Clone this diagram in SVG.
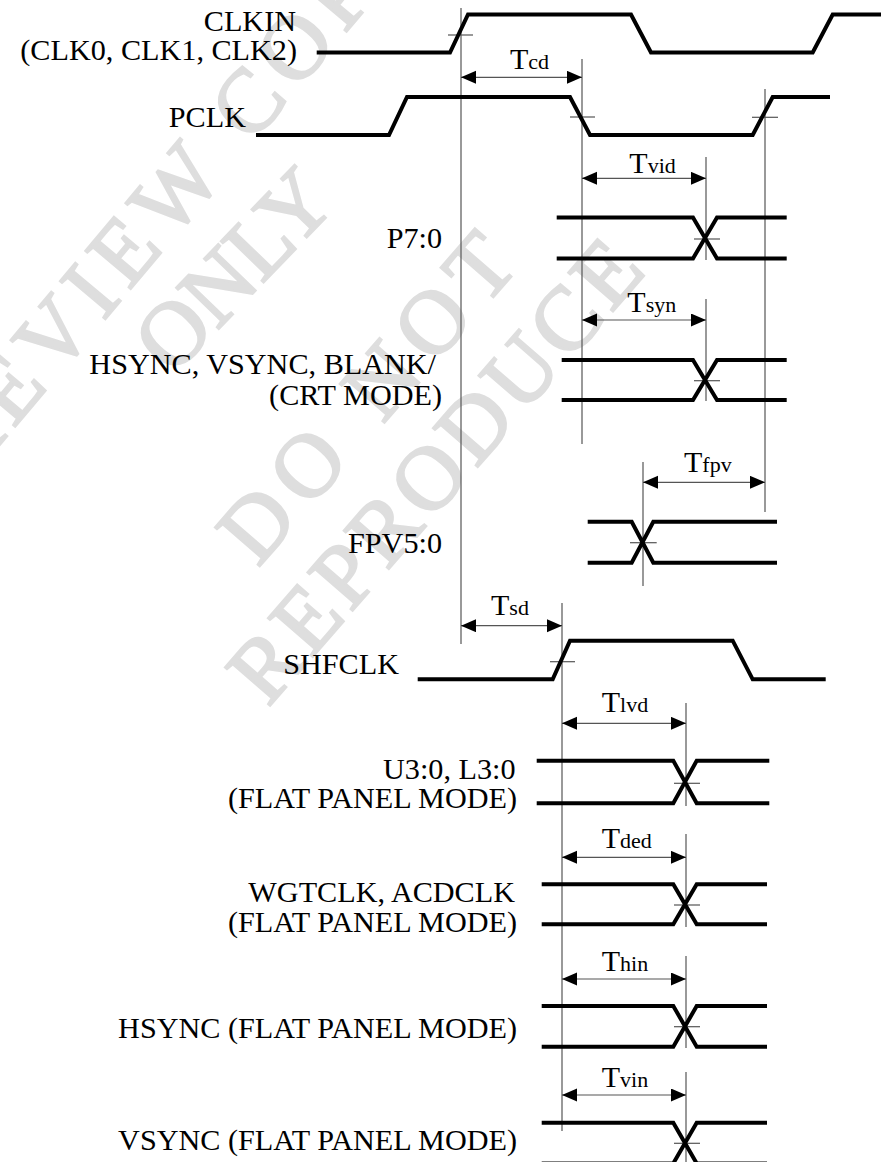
<svg xmlns="http://www.w3.org/2000/svg" width="881" height="1162" viewBox="0 0 881 1162">
<defs>
<style>
.wm{font-family:"Liberation Serif",serif;font-weight:normal;font-size:90px;fill:#dedede;stroke:#dedede;stroke-width:2.5}
.sig{fill:none;stroke:#000;stroke-width:4;stroke-linejoin:miter;stroke-linecap:butt}
.thin{fill:none;stroke:#555;stroke-width:1.2}
.dim{fill:none;stroke:#555;stroke-width:1.2;marker-start:url(#ah);marker-end:url(#ah)}
.lbl{font-family:"Liberation Serif","Times New Roman",serif;font-size:30.2px;fill:#000;text-anchor:end}
.tl{font-family:"Liberation Serif","Times New Roman",serif;font-size:30px;fill:#000}
.sub{font-size:22px}
</style>
<marker id="ah" markerUnits="userSpaceOnUse" markerWidth="16" markerHeight="14" refX="15" refY="6.5" orient="auto-start-reverse">
<path d="M0,0 L15,6.5 L0,13 Z" fill="#000"/>
</marker>
</defs>
<rect width="881" height="1162" fill="#fff"/>
<g id="watermark">
<text class="wm" transform="translate(-70,528) rotate(-50)" textLength="770" lengthAdjust="spacing">PREVIEW COPY</text>
<text class="wm" transform="translate(172,377) rotate(-46)" textLength="240" lengthAdjust="spacing">ONLY</text>
<text class="wm" transform="translate(258,568) rotate(-49)" textLength="400" lengthAdjust="spacing">DO NOT</text>
<text class="wm" transform="translate(268,708) rotate(-49)" textLength="578" lengthAdjust="spacing">REPRODUCE</text>
</g>
<g id="connectors">
<line class="thin" x1="461" y1="8" x2="461" y2="644"/>
<line class="thin" x1="582" y1="59" x2="582" y2="444"/>
<line class="thin" x1="706" y1="157" x2="706" y2="260"/>
<line class="thin" x1="706" y1="299" x2="706" y2="401"/>
<line class="thin" x1="765" y1="89" x2="765" y2="512"/>
<line class="thin" x1="643" y1="462" x2="643" y2="586"/>
<line class="thin" x1="562" y1="603" x2="562" y2="1131"/>
<line class="thin" x1="686" y1="703" x2="686" y2="806"/>
<line class="thin" x1="686" y1="834" x2="686" y2="927"/>
<line class="thin" x1="686" y1="956" x2="686" y2="1048"/>
<line class="thin" x1="686" y1="1072" x2="686" y2="1162"/>
<line class="dim" x1="461" y1="77.3" x2="582" y2="77.3"/>
<line class="dim" x1="582" y1="178.3" x2="706" y2="178.3"/>
<line class="dim" x1="582" y1="320" x2="706" y2="320"/>
<line class="dim" x1="643" y1="482.3" x2="765" y2="482.3"/>
<line class="dim" x1="461" y1="625.7" x2="562" y2="625.7"/>
<line class="dim" x1="562" y1="723.3" x2="686" y2="723.3"/>
<line class="dim" x1="562" y1="857.3" x2="686" y2="857.3"/>
<line class="dim" x1="562" y1="979" x2="686" y2="979"/>
<line class="dim" x1="562" y1="1095" x2="686" y2="1095"/>
<line class="thin" x1="448" y1="35" x2="473" y2="35"/>
<line class="thin" x1="570" y1="117" x2="595" y2="117"/>
<line class="thin" x1="752" y1="117.3" x2="778" y2="117.3"/>
<line class="thin" x1="694" y1="239" x2="720" y2="239"/>
<line class="thin" x1="694" y1="380.7" x2="720" y2="380.7"/>
<line class="thin" x1="630" y1="542.7" x2="656.7" y2="542.7"/>
<line class="thin" x1="550" y1="661.7" x2="575" y2="661.7"/>
<line class="thin" x1="674" y1="783.3" x2="700" y2="783.3"/>
<line class="thin" x1="674" y1="905" x2="700" y2="905"/>
<line class="thin" x1="674" y1="1026.7" x2="700" y2="1026.7"/>
<line class="thin" x1="674" y1="1143.3" x2="700" y2="1143.3"/>
<text class="tl" x="510" y="69">T<tspan class="sub">cd</tspan></text>
<text class="tl" x="629.3" y="173.3">T<tspan class="sub">vid</tspan></text>
<text class="tl" x="627.3" y="311.7">T<tspan class="sub">syn</tspan></text>
<text class="tl" x="684" y="472.3">T<tspan class="sub">fpv</tspan></text>
<text class="tl" x="491" y="615">T<tspan class="sub">sd</tspan></text>
<text class="tl" x="601.7" y="712.3">T<tspan class="sub">lvd</tspan></text>
<text class="tl" x="601.7" y="848.3">T<tspan class="sub">ded</tspan></text>
<text class="tl" x="601.7" y="970.7">T<tspan class="sub">hin</tspan></text>
<text class="tl" x="601.7" y="1086.7">T<tspan class="sub">vin</tspan></text>
</g>
<g id="clkin">
<text class="lbl" x="296" y="30.5">CLKIN</text>
<text class="lbl" x="297" y="60">(CLK0, CLK1, CLK2)</text>
<path class="sig" d="M316.7,52.5 H450 L468,14.5 H631 L651,52.5 H812.7 L832.7,14.5 H881"/>
</g>
<g id="pclk">
<text class="lbl" x="246" y="127">PCLK</text>
<path class="sig" d="M256,135 H389 L407,97 H570 L590,135 H752.7 L772.7,97 H830"/>
</g>
<g id="p70">
<text class="lbl" x="442" y="248">P7:0</text>
<path class="sig" d="M556.7,217.5 H693 L717,258.5 H786.7 M556.7,258.5 H693 L717,217.5 H786.7"/>
</g>
<g id="hsync-crt">
<text class="lbl" x="436" y="374">HSYNC, VSYNC, BLANK/</text>
<text class="lbl" x="442" y="405">(CRT MODE)</text>
<path class="sig" d="M561.7,360 H693 L717,400 H786.7 M561.7,400 H693 L717,360 H786.7"/>
</g>
<g id="fpv">
<text class="lbl" x="442" y="553">FPV5:0</text>
<path class="sig" d="M587.7,521.7 H631.7 L653.3,562.7 H777 M587.7,562.7 H631.7 L653.3,521.7 H777"/>
</g>
<g id="shfclk">
<text class="lbl" x="399" y="674">SHFCLK</text>
<path class="sig" d="M417.7,679.3 H552.7 L570,640.7 H732.7 L752.7,679.3 H825.7"/>
</g>
<g id="u30">
<text class="lbl" x="515.5" y="779.3">U3:0, L3:0</text>
<text class="lbl" x="517" y="808">(FLAT PANEL MODE)</text>
<path class="sig" d="M536.7,760.7 H673.3 L696.7,803.3 H769.3 M536.7,803.3 H673.3 L696.7,760.7 H769.3"/>
</g>
<g id="wgtclk">
<text class="lbl" x="515" y="902.3">WGTCLK, ACDCLK</text>
<text class="lbl" x="517" y="931.7">(FLAT PANEL MODE)</text>
<path class="sig" d="M541.7,884.3 H673.3 L696.7,924.3 H767 M541.7,924.3 H673.3 L696.7,884.3 H767"/>
</g>
<g id="hsync-fp">
<text class="lbl" x="517" y="1038.3">HSYNC (FLAT PANEL MODE)</text>
<path class="sig" d="M541.7,1006 H673.3 L696.7,1046.7 H767 M541.7,1046.7 H673.3 L696.7,1006 H767"/>
</g>
<g id="vsync-fp">
<text class="lbl" x="517" y="1150">VSYNC (FLAT PANEL MODE)</text>
<path class="sig" d="M541.7,1122.7 H673.3 L696.7,1163.4 H767 M541.7,1163.4 H673.3 L696.7,1122.7 H767"/>
</g>
</svg>
